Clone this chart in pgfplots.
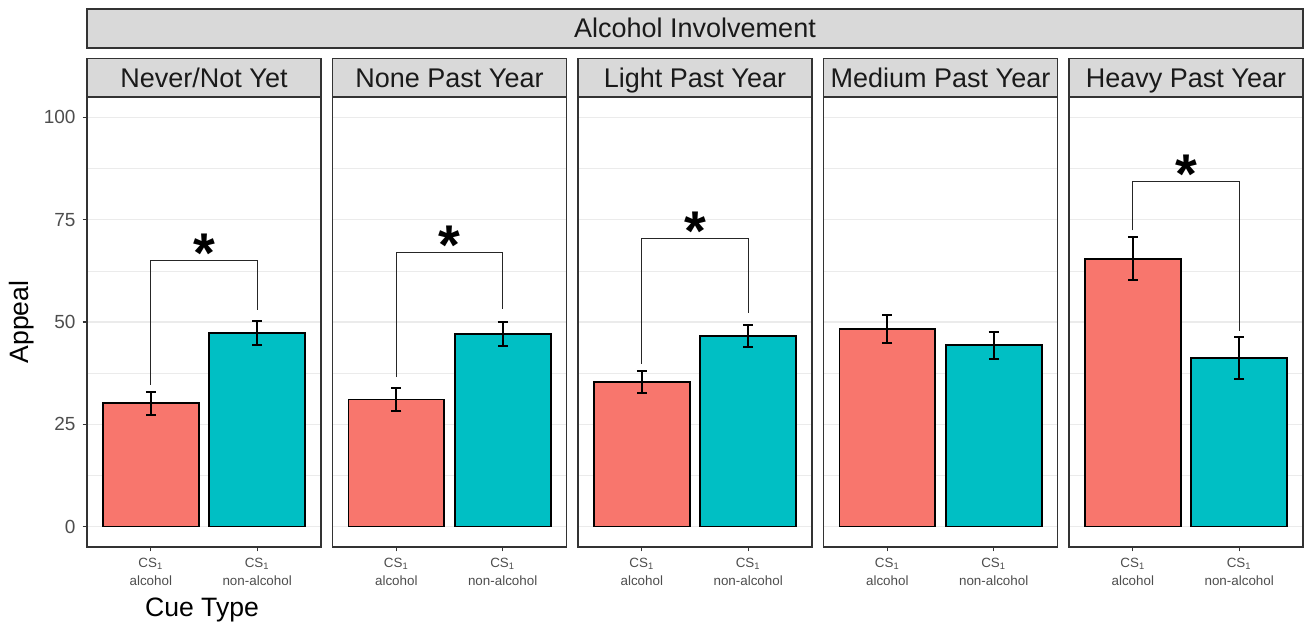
\documentclass[border=0pt]{standalone}
\usepackage{pgfplots}
\pgfplotsset{compat=1.18}
\usepackage{fontspec}
\setmainfont{Liberation Sans}
\setsansfont{Liberation Sans}
\usetikzlibrary{calc}
\definecolor{ggred}{HTML}{F8766D}
\definecolor{ggteal}{HTML}{00BFC4}
\definecolor{grey20}{HTML}{333333}
\definecolor{grey30}{HTML}{4D4D4D}
\definecolor{grey85}{HTML}{D9D9D9}
\definecolor{grey92}{HTML}{EBEBEB}
\definecolor{grey10}{HTML}{1A1A1A}
\pgfplotsset{
  panel/.style={
    scale only axis, anchor=south west,
    width=117pt, height=225pt,
    xmin=0.4, xmax=2.6, ymin=-5, ymax=105,
    xtick={1,2},
    xticklabels={{CS\textsubscript{1}\\alcohol},{CS\textsubscript{1}\\non-alcohol}},
    x tick label style={align=center, font=\fontsize{6.7}{8.6}\selectfont, text=grey30},
    ytick={0,25,50,75,100},
    minor y tick num=1,
    ymajorgrids, yminorgrids,
    major grid style={color=grey92, line width=0.6pt},
    minor grid style={color=grey92, line width=0.3pt},
    tick align=outside, xtick pos=bottom, ytick pos=left,
    major tick length=2.2pt, minor tick length=0pt,
    tick style={color=grey20, line width=0.55pt},
    axis line style={color=grey20, line width=0.8pt},
    y tick label style={font=\fontsize{9.5}{10}\selectfont, text=grey30},
    /pgf/number format/assume math mode=true,
    clip=false,
  },
  noy/.style={yticklabels={}, ytick style={draw=none}},
  barA/.style={ybar, bar width=0.9, bar shift=0pt, fill=ggred, draw=black, line width=0.95pt,
    error bars/.cd, y dir=both, y explicit,
    error bar style={line width=1.05pt, black},
    error mark options={rotate=90, mark size=2.5pt, line width=1.05pt, black}},
  barB/.style={ybar, bar width=0.9, bar shift=0pt, fill=ggteal, draw=black, line width=0.95pt,
    error bars/.cd, y dir=both, y explicit,
    error bar style={line width=1.05pt, black},
    error mark options={rotate=90, mark size=2.5pt, line width=1.05pt, black}},
  brk/.style={sharp plot, no marks, black!85, line width=0.55pt},
}
\newcommand{\sigstar}[1]{\node[anchor=north, inner sep=0pt, font=\fontsize{28}{28}\bfseries\selectfont] at (axis cs:1.5,#1) {*};}
\newcommand{\strip}[2]{%
  \filldraw[fill=grey85, draw=grey20, line width=0.8pt] (#1,264pt) rectangle ++(117pt,19.25pt);
  \node[anchor=base, inner sep=0pt, text=grey10, font=\fontsize{13.5}{14}\selectfont] at ($(#1,268.85pt)+(58.5pt,0)$) {#2};}
\begin{document}
\begin{tikzpicture}
\useasboundingbox (0,0) rectangle (654.5pt,312.5pt);
% top strip
\filldraw[fill=grey85, draw=grey20, line width=0.8pt] (43.5pt,288.35pt) rectangle (651.5pt,307.85pt);
\node[anchor=base, inner sep=0pt, text=grey10, font=\fontsize{13.5}{14}\selectfont] at (347.5pt,293.85pt) {Alcohol Involvement};
% panel 1
\begin{axis}[panel, at={(43.5pt,39pt)}]
\addplot[barA] coordinates {(1,30.1) +- (0,2.75)};
\addplot[barB] coordinates {(2,47.4) +- (0,2.95)};
\addplot[brk] coordinates {(1,34.6) (1,65.0) (2,65.0) (2,53.0)};
\sigstar{71.6}
\end{axis}
% panel 2
\begin{axis}[panel, noy, at={(166.25pt,39pt)}]
\addplot[barA] coordinates {(1,31.05) +- (0,2.75)};
\addplot[barB] coordinates {(2,47.1) +- (0,2.9)};
\addplot[brk] coordinates {(1,36.5) (1,67.0) (2,67.0) (2,53.1)};
\sigstar{73.6}
\end{axis}
% panel 3
\begin{axis}[panel, noy, at={(289pt,39pt)}]
\addplot[barA] coordinates {(1,35.3) +- (0,2.7)};
\addplot[barB] coordinates {(2,46.5) +- (0,2.7)};
\addplot[brk] coordinates {(1,39.8) (1,70.3) (2,70.3) (2,52.3)};
\sigstar{76.9}
\end{axis}
% panel 4
\begin{axis}[panel, noy, at={(411.75pt,39pt)}]
\addplot[barA] coordinates {(1,48.2) +- (0,3.4)};
\addplot[barB] coordinates {(2,44.3) +- (0,3.35)};
\end{axis}
% panel 5
\begin{axis}[panel, noy, at={(534.5pt,39pt)}]
\addplot[barA] coordinates {(1,65.45) +- (0,5.25)};
\addplot[barB] coordinates {(2,41.2) +- (0,5.1)};
\addplot[brk] coordinates {(1,72.4) (1,84.4) (2,84.4) (2,47.9)};
\sigstar{91.0}
\end{axis}
% strips
\strip{43.5pt}{Never/Not Yet}
\strip{166.25pt}{None Past Year}
\strip{289pt}{Light Past Year}
\strip{411.75pt}{Medium Past Year}
\strip{534.5pt}{Heavy Past Year}
% axis titles
\node[rotate=90, inner sep=0pt, font=\fontsize{13.3}{14}\selectfont] at (11pt,151.5pt) {Appeal};
\node[anchor=base, inner sep=0pt, font=\fontsize{13.3}{14}\selectfont] at (101pt,4pt) {Cue Type};
\end{tikzpicture}
\end{document}
